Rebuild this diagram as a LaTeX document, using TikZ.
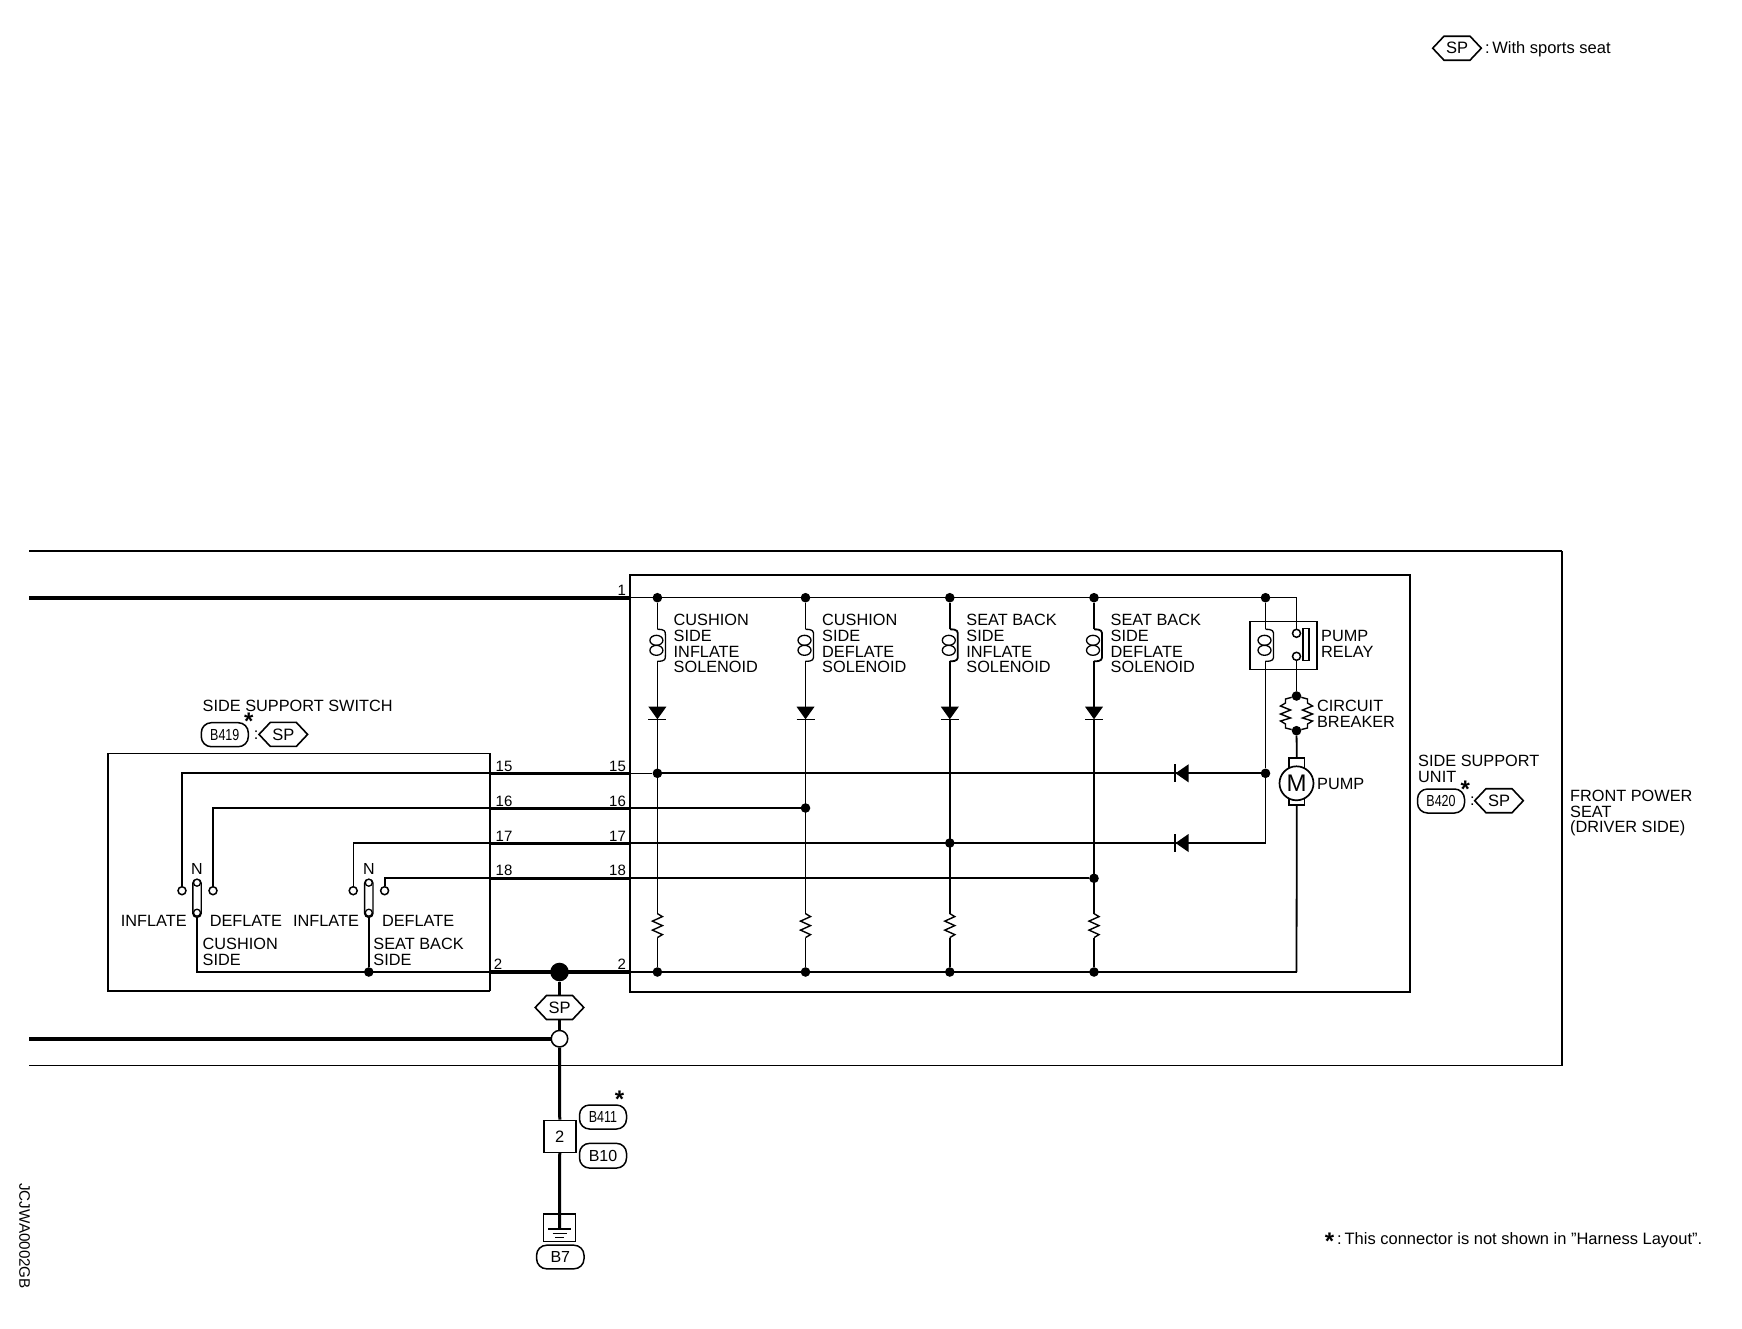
\documentclass[tikz,border=0pt]{standalone}
\usepackage{fontspec}
\usepackage{graphicx}
\setmainfont{Liberation Sans}
\tikzset{
  x=1pt,y=-1pt,
  thinw/.style={line width=1.3pt},
  midw/.style={line width=1.8pt},
  thickw/.style={line width=2pt},
  heavyw/.style={line width=3.6pt},
  lab/.style={font=\fontsize{16.3}{15.7}\selectfont,align=left,inner sep=0pt,anchor=west},
  pin/.style={font=\fontsize{15}{15}\selectfont,inner sep=0pt},
  dot/.style={circle,fill=black,draw=none,minimum size=9.6pt,inner sep=0pt},
  pillbox/.style={draw,line width=1.5pt,rounded corners=10pt,minimum width=47pt,minimum height=24pt,inner sep=0pt,font=\fontsize{16}{16}\selectfont,fill=white},
  hexbox/.style={inner sep=0pt,font=\fontsize{16.5}{16.5}\selectfont},
  starlab/.style={font=\fontsize{24}{24}\selectfont\bfseries,inner sep=0pt,yshift=-1pt},
  term/.style={circle,draw,line width=1.5pt,fill=white,minimum size=8pt,inner sep=0pt},
  pics/solcoil/.style={code={
    \draw[#1] (0,-16) .. controls (8,-16) and (8,-14) .. (8,-10) -- (8,10) .. controls (8,14) and (8,16) .. (0,16);
    \draw[line width=1.3pt] (-1,-5) ellipse [x radius=6.5pt,y radius=5pt];
    \draw[line width=1.3pt] (-1,5) ellipse [x radius=6.5pt,y radius=5pt];
  }},
  pics/dndiode/.style={code={
    \fill (-9,0) -- (9,0) -- (0,12.6) -- cycle;
    \draw[line width=1.6pt] (-9,12.6) -- (9,12.6);
  }},
  pics/lfdiode/.style={code={
    \fill (7,-9) -- (7,9) -- (-6,0) -- cycle;
    \draw[line width=2pt] (-6.5,-9) -- (-6.5,9);
  }},
  pics/zigres/.style={code={
    \draw[line width=1.4pt] (0,-12) -- (5,-9) -- (-5,-4.5) -- (5,0) -- (-5,4.5) -- (5,9) -- (0,12);
  }},
  pics/hexa/.style={code={
    \draw[line width=1.6pt,fill=white] (-24.3,0) -- (-13,-12) -- (13,-12) -- (24.3,0) -- (13,12) -- (-13,12) -- cycle;
  }},
}
\newcommand{\narrow}[1]{\scalebox{0.78}[1]{#1}}
\begin{document}
\begin{tikzpicture}
\useasboundingbox (0,0) rectangle (1742,1328);
% outer frame
\draw[thinw] (29,551) -- (1561.7,551);
\draw[line width=2pt] (1561.7,551) -- (1561.7,1065.5);
\draw[thinw] (1561.7,1065.5) -- (29,1065.5);
% unit box
\node[draw,line width=2pt,minimum width=779.7pt,minimum height=416.5pt,inner sep=0pt,anchor=north west] (unit) at (629,574) {};
% switch box
\draw[thinw] (107.9,753.3) -- (490,753.3) -- (490,991);
\draw[line width=2pt] (490,991) -- (107.9,991) -- (107.9,753.3);

% bus junctions
\foreach \n/\x in {a/657.4,b/805.5,c/949.8,d/1094,e/1265.5}{
  \node[dot] (top\n) at (\x,597.7) {};
}
\foreach \n/\x in {a/657.4,b/805.5,c/949.8,d/1094}{
  \node[dot] (bot\n) at (\x,972) {};
}
\coordinate (topr) at (1296.5,597.7);
\coordinate (botr) at (1296.5,972);
\node[dot] (j15) at (657.4,773.3) {};
\node[dot] (j16) at (805.5,808) {};
\node[dot] (j17) at (949.8,843) {};
\node[dot] (j18) at (1094,878.3) {};
\node[dot] (j15r) at (1265.5,773.3) {};
\coordinate (j17r) at (1265.5,843);

% solenoid columns
\foreach \n/\x/\w in {a/657.4/thinw,b/805.5/thinw,c/949.8/midw,d/1094/midw}{
  \draw[\w] (top\n) -- (\x,629.3);
  \pic at (\x,645.3) {solcoil={\w}};
  \draw[\w] (\x,661.3) -- (\x,706.7);
  \pic at (\x,706.7) {dndiode};
  \draw[\w] (\x,719.3) -- (\x,914);
  \pic at (\x,925.6) {zigres};
  \draw[\w] (\x,937.5) -- (bot\n);
}
% top bus
\draw[thinw] (630,597.7) -- (topr) -- (1296.5,633);
% bottom bus
\draw[thinw] (630,972) -- (botr) -- (1296.5,805);
% cross wires
\draw[thickw] (j15) -- (1188,773.3);
\draw[thickw] (1175,773.3) -- (j15r);
\draw[thinw] (630,773.3) -- (j15);
\draw[thinw] (630,808) -- (j16);
\draw[midw] (630,843) -- (1188,843);
\draw[midw] (1175,843) -- (j17r);
\draw[midw] (630,878.3) -- (j18);
\pic at (1181.5,773.3) {lfdiode};
\pic at (1181.5,843) {lfdiode};
% relay
\node[draw,line width=1.7pt,minimum width=67.2pt,minimum height=48pt,inner sep=0pt,anchor=north west] (relay) at (1249.2,620.5) {};
\draw[thinw] (tope) -- (1265.5,629.3);
\draw[thinw] (1265.5,661.3) -- (j15r);
\draw[thinw] (j15r) -- (j17r);
\pic at (1265.5,645.3) {solcoil={thinw}};
\node[term] (ct1) at (1296.5,633.3) {};
\node[term] (ct2) at (1296.5,656.3) {};
\draw[line width=1.5pt] (1303,628.7) rectangle (1309,660.7);
% breaker
\node[dot] (cb1) at (1296.5,696) {};
\node[dot] (cb2) at (1296.5,730.7) {};
\draw[midw] (ct2) -- (cb1);
\foreach \s in {-1,1}{
  \draw[line width=1.4pt] (cb1) -- (1296.5+\s*11,699) -- (1296.5+\s*11,703) -- (1296.5+\s*16,706) -- (1296.5+\s*6,710) -- (1296.5+\s*16,714) -- (1296.5+\s*6,718) -- (1296.5+\s*16,721) -- (1296.5+\s*11,724) -- (1296.5+\s*11,728) -- (cb2);
}
% motor
\node[draw,line width=1.4pt,minimum width=15.6pt,minimum height=47pt,inner sep=0pt] (mbrush) at (1296.8,781.5) {};
\node[circle,draw,line width=1.7pt,fill=white,minimum size=34pt,inner sep=0pt,font=\fontsize{24}{24}\selectfont] (motor) at (1296.5,783.3) {M};
\draw[midw] (cb2) -- (mbrush.north);
\draw[midw] (mbrush.south) -- (botr);

% harness between boxes
\coordinate (s15) at (182,773.3);
\coordinate (s16) at (213,808);
\coordinate (s17) at (353.2,843);
\coordinate (s18) at (384.6,878.3);
\node[term] (t15) at (182,890.7) {};
\node[term] (t16) at (213,890.7) {};
\node[term] (t17) at (353.2,890.7) {};
\node[term] (t18) at (384.6,890.7) {};
\draw[midw] (t15) -- (s15) -- (490,773.3);
\draw[thinw] (t16) -- (s16) -- (490,808);
\draw[thinw] (t17) -- (s17) -- (490,843);
\draw[midw] (t18) -- (s18) -- (490,878.3);
\draw[line width=2.6pt] (490,773.3) -- (630,773.3);
\draw[line width=3pt] (490,808) -- (630,808);
\draw[line width=3pt] (490,843) -- (630,843);
\draw[line width=2.4pt] (490,878.3) -- (630,878.3);
% top and bottom harness
\draw[heavyw] (29,597.7) -- (630,597.7);
\node[circle,fill=black,minimum size=18.6pt,inner sep=0pt] (bigj) at (559.5,972) {};
\draw[heavyw] (490,972) -- (630,972);
\draw[thinw] (197,918) -- (197,972) -- (490,972);
% switch levers
\foreach \n/\x in {s/197,t/368.8}{
  \node[draw,line width=1.4pt,fill=white,rounded corners=4pt,minimum width=8.4pt,minimum height=38pt,inner sep=0pt] (lever\n) at (\x,898.3) {};
  \node[circle,draw,line width=1.3pt,fill=white,minimum size=7pt,inner sep=0pt] at (\x,882.7) {};
  \node[circle,draw,line width=1.3pt,fill=white,minimum size=7pt,inner sep=0pt] at (\x,912.7) {};
  \node[pin,font=\fontsize{16}{16}\selectfont] at (\x,869) {N};
}
\node[dot] (jsw) at (368.8,972) {};
\draw[midw] (levert) -- (jsw);

% ground run
\node[draw,line width=1.6pt,fill=white,minimum width=32pt,minimum height=32pt,inner sep=0pt,font=\fontsize{16.5}{16.5}\selectfont] (conn) at (559.8,1136.3) {2};
\node[draw,line width=1.2pt,minimum width=32pt,minimum height=27.7pt,inner sep=0pt] (gbox) at (559.8,1227.8) {};
\coordinate (gnd) at (559.5,1229.3);
\pic at (559.5,1007.5) {hexa};
\node[hexbox] (sp3) at (559.5,1007.5) {SP};
\node[circle,draw,line width=1.5pt,fill=white,minimum size=16.5pt,inner sep=0pt] (wj) at (559.5,1038.7) {};
\draw[line width=3pt] (bigj) -- (559.5,995.5);
\draw[line width=3pt] (559.5,1019.5) -- (wj);
\draw[line width=3pt] (wj) -- (conn);
\draw[line width=3pt] (conn) -- (gnd);
\draw[heavyw] (29,1038.7) -- (wj);
\draw[line width=1.8pt] (548,1229.3) -- (571,1229.3);
\draw[line width=1.8pt] (552.5,1233.5) -- (566.5,1233.5);
\draw[line width=1.8pt] (555,1237.5) -- (564,1237.5);
\node[pillbox,minimum width=47.4pt,minimum height=23.6pt] (b7) at (560.3,1257) {B7};
\node[pillbox,minimum height=24.7pt] (b10) at (603,1155.7) {B10};
\node[pillbox,minimum height=24pt] (b411) at (603,1117) {\narrow{B411}};
\node[starlab] at (619.6,1098.3) {*};

% solenoid labels
\node[lab] at (673.5,643.8) {CUSHION\\SIDE\\INFLATE\\SOLENOID};
\node[lab] at (822,643.8) {CUSHION\\SIDE\\DEFLATE\\SOLENOID};
\node[lab] at (966.2,643.8) {SEAT BACK\\SIDE\\INFLATE\\SOLENOID};
\node[lab] at (1110.5,643.8) {SEAT BACK\\SIDE\\DEFLATE\\SOLENOID};
\node[lab] at (1321,643.8) {PUMP\\RELAY};
\node[lab] at (1316.9,714) {CIRCUIT\\BREAKER};
\node[lab] at (1317,784) {PUMP};
% unit label
\node[lab] at (1418,768.7) {SIDE SUPPORT\\UNIT};
\node[pillbox] (b420) at (1441,801) {\narrow{B420}};
\node[lab] at (1470,801.5) {:};
\node[starlab] at (1465.3,788) {*};
\pic at (1499,800.7) {hexa};
\node[hexbox] at (1499,800.7) {SP};
\node[lab] at (1570,813) {FRONT POWER\\SEAT\\(DRIVER SIDE)};
% switch labels
\node[lab] at (202.5,706) {SIDE SUPPORT SWITCH};
\node[pillbox] (b419) at (224.8,734.7) {\narrow{B419}};
\node[lab] at (253.6,735) {:};
\node[starlab] at (248.8,720.7) {*};
\pic at (283.3,734.4) {hexa};
\node[hexbox] at (283.3,734.4) {SP};
\node[lab] at (120.7,920.7) {INFLATE};
\node[lab] at (209.6,920.7) {DEFLATE};
\node[lab] at (292.9,920.7) {INFLATE};
\node[lab] at (381.8,920.7) {DEFLATE};
\node[lab] at (202.5,952) {CUSHION\\SIDE};
\node[lab] at (373.2,952) {SEAT BACK\\SIDE};
% pin labels
\foreach \t/\y in {15/766.7,16/801.7,17/836.7,18/870.7}{
  \node[pin] at (504,\y) {\t};
  \node[pin] at (617.5,\y) {\t};
}
\node[pin] at (621.7,590) {1};
\node[pin] at (498,964) {2};
\node[pin] at (621.7,964) {2};
% legend
\pic at (1457,48.2) {hexa};
\node[hexbox] at (1457,48.2) {SP};
\node[lab,font=\fontsize{16.5}{16.5}\selectfont] at (1485,49) {:\hspace{2.5pt}With sports seat};
% footnote
\node[starlab] at (1329.5,1240.7) {*};
\node[lab,font=\fontsize{16.5}{16.5}\selectfont] at (1337,1240.7) {:\hspace{2.8pt}This connector is not shown in "Harness Layout".};
% code
\node[font=\fontsize{15.2}{15.2}\selectfont,inner sep=0pt,rotate=-90] at (24.5,1236) {JCJWA0002GB};
\end{tikzpicture}
\end{document}
